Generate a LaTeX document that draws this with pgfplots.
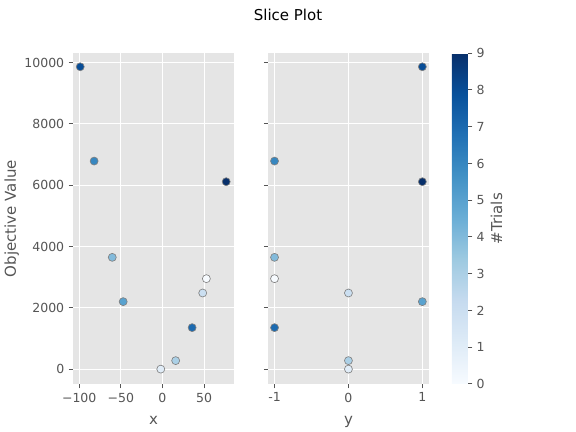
\documentclass[border=0pt]{standalone}
\usepackage{fontspec}
\setmainfont{DejaVu Sans}
\usepackage{pgfplots}
\usepackage{pgfplotstable}
\pgfplotsset{compat=1.18}
\definecolor{bgc}{HTML}{E5E5E5}
\definecolor{tickc}{HTML}{555555}
\pgfplotsset{colormap={Blues}{rgb255=(247,251,255) rgb255=(222,235,247) rgb255=(198,219,239) rgb255=(158,202,225) rgb255=(107,174,214) rgb255=(66,146,198) rgb255=(33,113,181) rgb255=(8,81,156) rgb255=(8,48,107)}}
\pgfplotstableread{
x y obj t
52.8 -1 2953 0
-2.0 0 5 1
48.4 0 2486 2
15.9 0 282 3
-60.3 -1 3648 4
-47.2 1 2204 5
-82.1 -1 6786 6
35.7 -1 1357 7
-98.8 1 9859 8
76.6 1 6113 9
}\trials
\pgfplotsset{
  mystyle/.style={
    scale only axis, height=264.6pt,
    ymin=-480, ymax=10300,
    scaled y ticks=false, scaled x ticks=false,
    axis background/.style={fill=bgc},
    axis line style={draw=none},
    grid=major, major grid style={white, line width=0.8pt},
    tick align=outside, major tick length=3.5pt,
    tick style={color=tickc, line width=0.8pt},
    tick pos=left,
    ytick={0,2000,4000,6000,8000,10000},
    ticklabel style={font=\fontsize{10}{12}\selectfont, text=tickc},
    label style={font=\fontsize{12}{14}\selectfont, text=tickc},
    xlabel style={yshift=-4.5pt},
    ylabel style={yshift=-2.5pt},
    colormap name=Blues, point meta min=0, point meta max=9,
  },
  myscatter/.style={scatter, only marks, mark=*, mark size=3.2pt,
    line width=0.5pt, point meta=explicit,
    scatter/use mapped color={draw=gray, fill=mapped color}},
}
\begin{document}
\begin{tikzpicture}
\useasboundingbox (0,0) rectangle (460.8pt,345.6pt);
\node[font=\fontsize{12}{14}\selectfont, anchor=center] at (230.4pt,333.6pt) {Slice Plot};
\begin{axis}[mystyle,
  at={(58.4pt,38.4pt)}, anchor=south west, width=128.8pt,
  xmin=-107.5, xmax=86,
  xtick={-100,-50,0,50}, xticklabels={−100,−50,0,50},
  yticklabels={0,2000,4000,6000,8000,10000},
  xlabel={x}, ylabel={Objective Value},
]
\addplot[myscatter] table[x=x, y=obj, meta=t] {\trials};
\end{axis}
\begin{axis}[mystyle,
  at={(214.6pt,38.4pt)}, anchor=south west, width=128.6pt,
  xmin=-1.085, xmax=1.09,
  xtick={-1,0,1}, xticklabels={-1,0,1},
  yticklabels={},
  xlabel={y},
  colorbar,
  colorbar style={
    at={(parent axis.north east)}, anchor=north west, xshift=9.8pt,
    width=12.8pt,
    axis line style={draw=none},
    ytick={0,1,2,3,4,5,6,7,8,9},
    yticklabels={0,1,2,3,4,5,6,7,8,9},
    tick align=outside, major tick length=3.5pt,
    tick style={color=tickc, line width=0.8pt},
    ytick pos=right, yticklabel pos=right,
    ticklabel style={font=\fontsize{10}{12}\selectfont, text=tickc},
    ylabel={\#Trials},
    ylabel style={font=\fontsize{12}{14}\selectfont, text=tickc, yshift=2pt},
  },
]
\addplot[myscatter] table[x=y, y=obj, meta=t] {\trials};
\end{axis}
\end{tikzpicture}
\end{document}
